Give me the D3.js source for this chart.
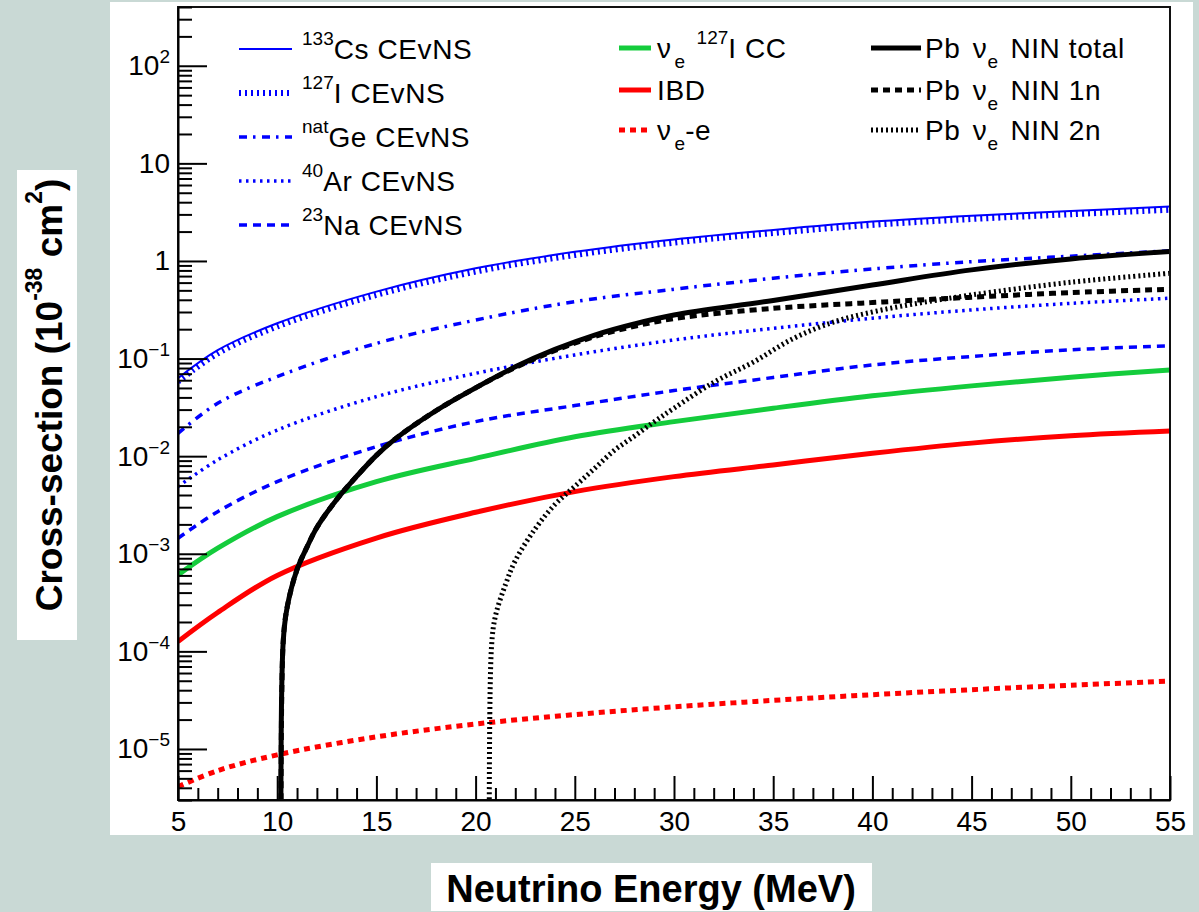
<!DOCTYPE html>
<html>
<head>
<meta charset="utf-8">
<script src="https://cdn.jsdelivr.net/npm/d3@7"></script>
<style>
  body { margin: 0; background: #c9d9d5; }
  svg { display: block; }
  text { font-family: "Liberation Sans", Arial, Helvetica, sans-serif; white-space: pre; }
</style>
</head>
<body>
<div id="chart"></div>
<script>
// ---- data (cross-section in 1e-38 cm^2) ----
const energy = [5, 7, 10, 15, 20, 25, 30, 35, 40, 45, 50, 55];
const cs133 = [0.063, 0.122, 0.23, 0.485, 0.84, 1.24, 1.66, 2.08, 2.53, 2.91, 3.25, 3.62];
const i127 = [0.058, 0.113, 0.213, 0.449, 0.778, 1.15, 1.54, 1.93, 2.34, 2.69, 3.01, 3.35];
const geNat = [0.0171, 0.0348, 0.0653, 0.143, 0.248, 0.383, 0.513, 0.665, 0.828, 0.984, 1.12, 1.27];
const ar40 = [0.00488, 0.00915, 0.0185, 0.0407, 0.0706, 0.109, 0.155, 0.204, 0.259, 0.315, 0.368, 0.415];
const na23 = [0.00144, 0.0027, 0.00548, 0.0125, 0.0226, 0.033, 0.047, 0.064, 0.086, 0.105, 0.123, 0.135];
const iCC = [6.07e-4, 1.14e-3, 2.4e-3, 5.48e-3, 9.5e-3, 0.0158, 0.0226, 0.031, 0.0415, 0.0525, 0.0645, 0.0764];
const ibd = [1.26e-4, 2.5e-4, 6.0e-4, 1.45e-3, 2.66e-3, 4.33e-3, 6.17e-3, 8.13e-3, 0.0107, 0.0136, 0.0162, 0.0181];
const nueE = [4.1e-6, 6.0e-6, 8.7e-6, 1.33e-5, 1.8e-5, 2.25e-5, 2.7e-5, 3.15e-5, 3.6e-5, 4.05e-5, 4.5e-5, 4.95e-5];

// Pb NIN (threshold ~10.2 MeV, 2n threshold ~20.7 MeV)
const ninEnergy = [10.2, 10.3, 10.5, 11, 11.5, 12, 13, 14, 15, 16, 18, 20, 22, 24, 26, 28, 30, 35, 40, 45, 50, 55];
const ninTotal = [1e-7, 1.23e-4, 2.82e-4, 6.9e-4, 1.17e-3, 1.86e-3, 3.6e-3, 6.2e-3, 0.0102, 0.0153, 0.0292, 0.0501, 0.0822, 0.124, 0.174, 0.226, 0.279, 0.394, 0.568, 0.81, 1.05, 1.25];
const nin1n = [1e-7, 1.23e-4, 2.82e-4, 6.9e-4, 1.17e-3, 1.86e-3, 3.6e-3, 6.2e-3, 0.0102, 0.0153, 0.0292, 0.0501, 0.081, 0.121, 0.168, 0.214, 0.257, 0.327, 0.375, 0.425, 0.474, 0.513];
const nin2nEnergy = [20.7, 20.8, 21, 21.5, 22, 23, 24, 25, 26, 27, 28, 29, 30, 32, 34, 36, 38, 40, 42, 45, 50, 55];
const nin2n = [1e-7, 1.1e-4, 2.3e-4, 4.8e-4, 8.5e-4, 1.8e-3, 3.2e-3, 4.9e-3, 7.5e-3, 0.0115, 0.016, 0.0225, 0.031, 0.057, 0.092, 0.16, 0.235, 0.30, 0.36, 0.449, 0.605, 0.748];

// ticks
const xTicks = [5, 10, 15, 20, 25, 30, 35, 40, 45, 50, 55];
const yExponents = [-5, -4, -3, -2, -1, 0, 1, 2];

// legend labels: [kind, text, dx] with kind "" / "sup" / "sub"
const labels = {
    cs: [["sup", "133"], ["", "Cs CEvNS"]],
    i: [["sup", "127"], ["", "I CEvNS"]],
    ge: [["sup", "nat"], ["", "Ge CEvNS"]],
    ar: [["sup", "40"], ["", "Ar CEvNS"]],
    na: [["sup", "23"], ["", "Na CEvNS"]],
    cc: [["", "\u03bd"], ["sub", "e", 3], ["", " ", 3], ["sup", "127"], ["", "I CC"]],
    ibd: [["", "IBD"]],
    nue: [["", "\u03bd"], ["sub", "e", 3], ["", "-e"]],
    tot: [["", "Pb "], ["", "\u03bd", 4], ["sub", "e"], ["", " NIN total", 4]],
    n1: [["", "Pb "], ["", "\u03bd", 4], ["sub", "e"], ["", " NIN 1n", 4]],
    n2: [["", "Pb "], ["", "\u03bd", 4], ["sub", "e"], ["", " NIN 2n", 4]]
};

// ---- layout ----
const W = 1199, H = 912;
const plot = { left: 178, top: 7, right: 1170, bottom: 800 };
const blue = "#0000ff", green = "#14cc3c", red = "#ff0000", black = "#000000";

const svg = d3.select("#chart").append("svg")
    .attr("width", W)
    .attr("height", H);

svg.append("rect").attr("width", W).attr("height", H).attr("fill", "#c9d9d5");
svg.append("rect").attr("x", 110).attr("y", 2).attr("width", 1083).attr("height", 833).attr("fill", "#fff");

const x = d3.scaleLinear().domain([5, 55]).range([plot.left, plot.right]);
const y = d3.scaleLog().domain([3e-6, 400]).range([plot.bottom, plot.top]);

svg.append("clipPath").attr("id", "clip")
    .append("rect")
    .attr("x", plot.left).attr("y", plot.top)
    .attr("width", plot.right - plot.left).attr("height", plot.bottom - plot.top);

// series table built from the arrays (drawn in legend order)
const series = [
    { id: "i", xs: energy, ys: i127, color: blue, width: 6, dash: "2,4" },
    { id: "cs", xs: energy, ys: cs133, color: blue, width: 2, dash: null },
    { id: "ge", xs: energy, ys: geNat, color: blue, width: 3.5, dash: "8,6,2.5,6.5" },
    { id: "ar", xs: energy, ys: ar40, color: blue, width: 3.5, dash: "2.5,4.5" },
    { id: "na", xs: energy, ys: na23, color: blue, width: 3.5, dash: "8,6" },
    { id: "cc", xs: energy, ys: iCC, color: green, width: 5, dash: null },
    { id: "ibd", xs: energy, ys: ibd, color: red, width: 5, dash: null },
    { id: "nue", xs: energy, ys: nueE, color: red, width: 5, dash: "6,5" },
    { id: "n2", xs: nin2nEnergy, ys: nin2n, color: black, width: 5, dash: "2,3" },
    { id: "n1", xs: ninEnergy, ys: nin1n, color: black, width: 5, dash: "7,5" },
    { id: "tot", xs: ninEnergy, ys: ninTotal, color: black, width: 5, dash: null }
];

const line = d3.line()
    .x(d => x(d[0]))
    .y(d => y(d[1]))
    .curve(d3.curveCatmullRom.alpha(0.5));

svg.append("g")
    .attr("clip-path", "url(#clip)")
    .selectAll("path")
    .data(series)
    .join("path")
    .attr("d", s => line(s.xs.map((e, i) => [e, s.ys[i]])))
    .attr("fill", "none")
    .attr("stroke", s => s.color)
    .attr("stroke-width", s => s.width)
    .attr("stroke-dasharray", s => s.dash);

// frame
svg.append("rect")
    .attr("x", plot.left).attr("y", plot.top)
    .attr("width", plot.right - plot.left).attr("height", plot.bottom - plot.top)
    .attr("fill", "none").attr("stroke", "#111").attr("stroke-width", 2);

// x axis (ticks point into the plot)
const xMinor = d3.range(5, 56).filter(v => v % 5 !== 0);
svg.append("g")
    .attr("transform", `translate(0,${plot.bottom})`)
    .call(d3.axisBottom(x).tickValues(xMinor).tickSize(-12).tickFormat(""))
    .call(g => g.select(".domain").remove())
    .selectAll("line").attr("stroke", "#000").attr("stroke-width", 2);

const xAxis = svg.append("g")
    .attr("transform", `translate(0,${plot.bottom})`)
    .call(d3.axisBottom(x).tickValues(xTicks).tickSize(-24).tickSizeOuter(0).tickPadding(11));
xAxis.selectAll("line").attr("stroke", "#000").attr("stroke-width", 2);
xAxis.select(".domain").attr("stroke", "#000").attr("stroke-width", 2);
xAxis.selectAll("text").attr("font-size", 28).attr("fill", "#000")
    .attr("font-family", "Liberation Sans, Arial, sans-serif");

// y axis (log, ticks point into the plot)
const yMinor = [];
for (let e = -6; e <= 2; e++) {
    for (let m = 2; m <= 9; m++) {
        const v = m * Math.pow(10, e);
        if (v >= 3e-6 && v <= 400) yMinor.push(v);
    }
}
svg.append("g")
    .attr("transform", `translate(${plot.left},0)`)
    .call(d3.axisLeft(y).tickValues(yMinor).tickSize(-14).tickFormat(""))
    .call(g => g.select(".domain").remove())
    .selectAll("line").attr("stroke", "#000").attr("stroke-width", 2);

const yAxis = svg.append("g")
    .attr("transform", `translate(${plot.left},0)`)
    .call(d3.axisLeft(y).tickValues(yExponents.map(e => Math.pow(10, e)))
        .tickSize(-29).tickSizeOuter(0).tickPadding(8).tickFormat(""));
yAxis.selectAll("line").attr("stroke", "#000").attr("stroke-width", 2);
yAxis.select(".domain").attr("stroke", "#000").attr("stroke-width", 2);
yAxis.selectAll(".tick text").each(function (d) {
    const e = Math.round(Math.log10(d));
    const t = d3.select(this)
        .attr("font-size", 28).attr("fill", "#000")
        .attr("font-family", "Liberation Sans, Arial, sans-serif");
    if (e === 0) t.text("1");
    else if (e === 1) t.text("10");
    else {
        t.append("tspan").text("10");
        t.append("tspan").attr("dy", -12).attr("font-size", 19)
            .text(e < 0 ? "\u2212" + (-e) : String(e));
    }
});

// rich text helper (super/subscripts)
function rich(sel, parts, size, small, rise, drop, spacing) {
    let shift = 0;
    parts.forEach(([kind, str, dx]) => {
        const target = kind === "sup" ? -rise : kind === "sub" ? drop : 0;
        const ts = sel.append("tspan")
            .attr("dy", target - shift)
            .attr("font-size", kind ? small : size)
            .text(str);
        if (dx) ts.attr("dx", dx);
        if (spacing && !kind) ts.attr("letter-spacing", spacing);
        shift = target;
    });
}

// legend
const legendCols = [
    { x1: 239, x2: 292, tx: 302, rows: [49, 93, 137, 181, 225], ids: ["cs", "i", "ge", "ar", "na"] },
    { x1: 619, x2: 651, tx: 657, rows: [48, 90, 130], ids: ["cc", "ibd", "nue"] },
    { x1: 871, x2: 921, tx: 925, rows: [48, 90, 130], ids: ["tot", "n1", "n2"] }
];
const legend = svg.append("g");
legendCols.forEach(col => {
    col.ids.forEach((id, i) => {
        const s = series.find(d => d.id === id);
        const yy = col.rows[i];
        legend.append("line")
            .attr("x1", col.x1).attr("x2", col.x2)
            .attr("y1", yy).attr("y2", yy)
            .attr("stroke", s.color)
            .attr("stroke-width", s.width)
            .attr("stroke-dasharray", s.dash);
        const t = legend.append("text")
            .attr("x", col.tx).attr("y", yy + 9.5)
            .attr("fill", "#000");
        rich(t, labels[id], 28, 19, 14, 10, 0.6);
    });
});

// axis titles in white boxes
svg.append("rect").attr("x", 17).attr("y", 170).attr("width", 60).attr("height", 470).attr("fill", "#fff");
const yTitle = svg.append("text")
    .attr("transform", "translate(62,395) rotate(-90)")
    .attr("text-anchor", "middle")
    .attr("font-weight", "bold")
    .attr("fill", "#000");
rich(yTitle, [["", "Cross-section (10"], ["sup", "-38"], ["", " cm"], ["sup", "2"], ["", ")"]], 37, 23, 20, 0, 0);

svg.append("rect").attr("x", 431).attr("y", 863).attr("width", 441).attr("height", 48).attr("fill", "#fff");
svg.append("text")
    .attr("x", 651).attr("y", 902)
    .attr("text-anchor", "middle")
    .attr("font-weight", "bold")
    .attr("font-size", 38)
    .attr("fill", "#000")
    .text("Neutrino Energy (MeV)");
</script>
</body>
</html>
